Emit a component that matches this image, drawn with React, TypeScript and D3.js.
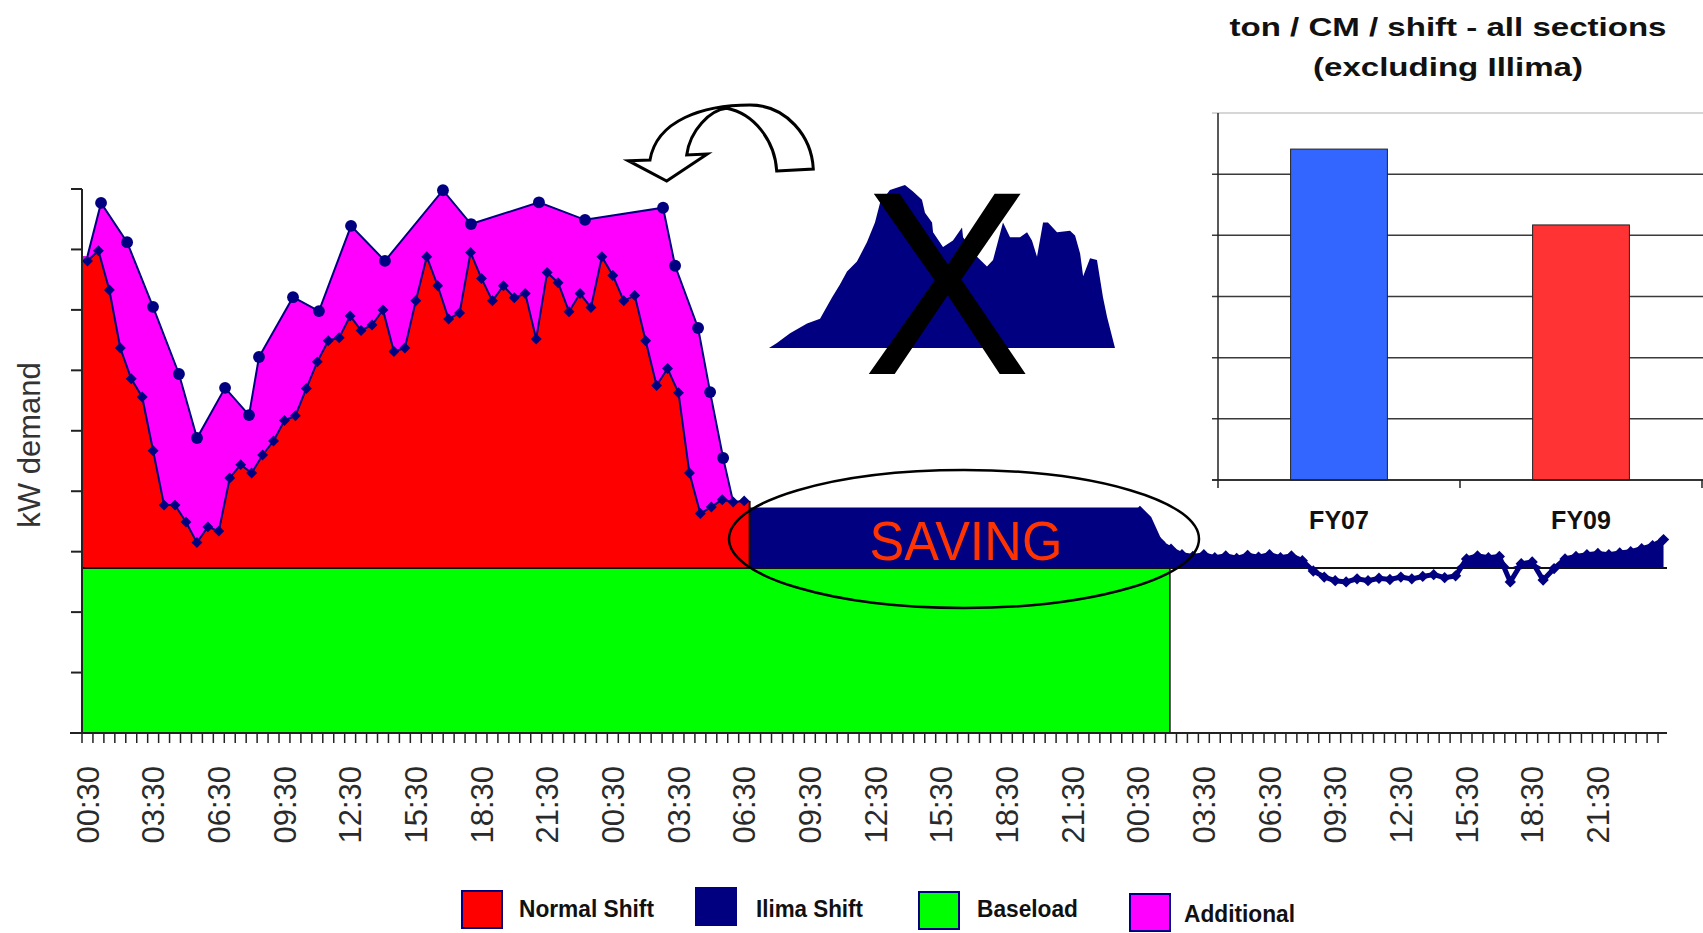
import React from "react";
import * as d3 from "d3";

const W = 1703;
const H = 933;
const FONT = "'Liberation Sans', Arial, sans-serif";
const NAVY = "#000080";

// ---------- main chart data ----------
const tickLabels = [
  "00:30", "03:30", "06:30", "09:30", "12:30", "15:30", "18:30", "21:30",
  "00:30", "03:30", "06:30", "09:30", "12:30", "15:30", "18:30", "21:30",
  "00:30", "03:30", "06:30", "09:30", "12:30", "15:30", "18:30", "21:30",
];
const categoryCount = 145; // half-hour slots
const labelEvery = 6;
const yTicks = [0, 1, 2, 3, 4, 5, 6, 7, 8, 9];

const baseload = 2.73;
const baseloadEnd = 98.9; // category position where baseload fill stops

// Normal shift demand level (slots 0..60)
const normalShift = [
  7.81, 7.98, 7.33, 6.37, 5.86, 5.56, 4.67, 3.77, 3.77, 3.49,
  3.15, 3.41, 3.34, 4.22, 4.44, 4.30, 4.60, 4.83, 5.17, 5.25,
  5.70, 6.14, 6.49, 6.54, 6.90, 6.66, 6.75, 7.00, 6.31, 6.37,
  7.15, 7.88, 7.40, 6.85, 6.95, 7.95, 7.52, 7.15, 7.40, 7.20,
  7.27, 6.52, 7.62, 7.45, 6.97, 7.27, 7.04, 7.88, 7.57, 7.15,
  7.24, 6.49, 5.75, 6.03, 5.63, 4.30, 3.63, 3.74, 3.86, 3.82, 3.84,
];

// Additional demand: [slot position, level]
const additionalPos = [
  0, 1.24, 3.62, 5.99, 8.36, 10.01, 12.57, 14.76, 15.67, 18.78, 21.15,
  24.08, 27.18, 32.48, 35.04, 41.25, 45.46, 52.59, 53.69, 55.79, 56.89, 58.08, 59,
];
const additionalVal = [
  7.89, 8.77, 8.12, 7.05, 5.94, 4.88, 5.71, 5.26, 6.22, 7.21, 6.98,
  8.39, 7.81, 8.98, 8.42, 8.78, 8.49, 8.69, 7.73, 6.70, 5.64, 4.55, 3.82,
];

// Ilima shift block
const ilimaLevel = 3.73;
const ilimaStart = 61;
const ilimaEnd = 96;

// Demand after Ilima stopped (slots 97..144)
const afterStart = 97;
const afterValues = [
  3.55, 3.15, 3.04, 2.95, 2.92, 2.95, 2.90, 2.93, 2.89, 2.94,
  2.91, 2.95, 2.90, 2.93, 2.85, 2.68, 2.58, 2.52, 2.50, 2.55,
  2.52, 2.56, 2.54, 2.58, 2.55, 2.59, 2.62, 2.57, 2.60, 2.88,
  2.93, 2.90, 2.92, 2.50, 2.80, 2.83, 2.53, 2.72, 2.88, 2.92,
  2.95, 2.97, 2.95, 2.98, 3.00, 3.05, 3.10, 3.20,
];

// ---------- mini Ilima profile (crossed out) ----------
const miniHours = [
  0, 0.55, 1.46, 2.64, 3.54, 4.37, 4.92, 5.41, 6.1, 6.8, 7.35, 7.7, 8.39, 9.43,
  9.99, 10.61, 10.82, 11.31, 11.38, 12.07, 12.76, 13.39, 13.46, 14.43, 15.12,
  15.54, 16.23, 16.72, 17.41, 17.9, 18.24, 18.59, 19.01, 19.35, 19.98, 20.88,
  21.23, 21.58, 21.79, 22.27, 22.75, 23.17, 23.45, 24,
];
const miniValues = [
  0, 3, 9, 15, 18, 31, 39, 47, 53, 65, 77, 89, 97, 100,
  96, 91, 83, 77, 71, 62, 66, 74, 68, 56, 50,
  54, 77, 68, 68, 71, 66, 56, 77, 77, 71, 72,
  69, 58, 44, 55, 54, 31, 19, 0,
];

// ---------- inset bar chart ----------
const barCats = ["FY07", "FY09"];
const barValues = [5.41, 4.17];
const barColors = ["#3366ff", "#ff3333"];
const barGrid = [0, 1, 2, 3, 4, 5, 6];

// ---------- legend ----------
const legendItems = [
  { name: "Normal Shift", color: "#ff0000" },
  { name: "Ilima Shift", color: NAVY },
  { name: "Baseload", color: "#00ff00" },
  { name: "Additional", color: "#ff00ff" },
];

export default function App() {
  const x = d3.scaleLinear().domain([-0.5, categoryCount - 0.5]).range([82, 1669]);
  const y = d3.scaleLinear().domain([0, 9]).range([733, 189]);
  const yBase = y(baseload);

  const area = d3
    .area<[number, number]>()
    .x((d) => x(d[0]))
    .y0(yBase)
    .y1((d) => y(d[1]));
  const line = d3
    .line<[number, number]>()
    .x((d) => x(d[0]))
    .y((d) => y(d[1]));

  const redPts: [number, number][] = normalShift.map((v, i) => [i, v]);
  const redArea: [number, number][] = [
    [-0.5, normalShift[0]],
    ...redPts,
    [normalShift.length - 0.5, normalShift[normalShift.length - 1]],
  ];
  const addPts: [number, number][] = additionalPos.map((p, i) => [p, additionalVal[i]]);
  const addArea: [number, number][] = [[-0.5, additionalVal[0]], ...addPts];

  const afterPts: [number, number][] = afterValues.map((v, k) => [afterStart + k, v]);
  const ilimaArea: [number, number][] = [
    [ilimaStart - 0.5, ilimaLevel],
    [ilimaEnd, ilimaLevel],
    ...afterPts.map((p) => [p[0], Math.max(p[1], baseload)] as [number, number]),
  ];
  const afterLine: [number, number][] = [[ilimaEnd, ilimaLevel], ...afterPts];

  const diamond = d3.symbol().type(d3.symbolSquare).size(60)() as string;
  const smallDiamond = d3.symbol().type(d3.symbolSquare).size(64)() as string;
  const circle = d3.symbol().type(d3.symbolCircle).size(110)() as string;

  // mini chart
  const xm = d3.scaleLinear().domain([0, 24]).range([769, 1115]);
  const ym = d3.scaleLinear().domain([0, 100]).range([348, 185]);
  const miniArea = d3
    .area<number>()
    .x((_, i) => xm(miniHours[i]))
    .y0(ym(0))
    .y1((d) => ym(d));

  // inset
  const xb = d3.scaleBand<string>().domain(barCats).range([1218, 1702]).padding(0);
  const yb = d3.scaleLinear().domain([0, 6]).range([480, 113]);
  const bw = xb.bandwidth() * 0.4;

  const ticksX = d3.range(0, categoryCount + 1).map((k) => x(k - 0.5)).filter((v) => v <= 1666);

  return (
    <svg
      width={W}
      height={H}
      style={{ position: "absolute", left: 0, top: 0, background: "#fff", display: "block" }}
      fontFamily={FONT}
    >
      <rect x={0} y={0} width={W} height={H} fill="#fff" />

      {/* ===== main stacked chart ===== */}
      <rect
        x={x(-0.5)}
        y={yBase}
        width={x(baseloadEnd) - x(-0.5)}
        height={y(0) - yBase}
        fill="#00ff00"
        stroke="#111"
        strokeWidth={1.5}
      />
      <path d={area(addArea) as string} fill="#ff00ff" />
      <path d={area(redArea) as string} fill="#ff0000" />
      <path d={area(ilimaArea) as string} fill={NAVY} />
      <line
        x1={x(normalShift.length - 0.5)}
        x2={x(normalShift.length - 0.5)}
        y1={y(normalShift[normalShift.length - 1])}
        y2={yBase}
        stroke="#111"
        strokeWidth={2}
      />
      <line x1={x(-0.5)} x2={1667} y1={yBase} y2={yBase} stroke="#111" strokeWidth={2} />

      <path d={line(addPts) as string} fill="none" stroke={NAVY} strokeWidth={2} />
      <path d={line(redPts) as string} fill="none" stroke={NAVY} strokeWidth={2} />
      <path d={line(afterLine) as string} fill="none" stroke={NAVY} strokeWidth={5} />

      {redPts.map((p, i) => (
        <path key={"r" + i} d={diamond} fill={NAVY} transform={`translate(${x(p[0])},${y(p[1])}) rotate(45)`} />
      ))}
      {addPts.slice(1, -1).map((p, i) => (
        <path key={"a" + i} d={circle} fill={NAVY} transform={`translate(${x(p[0])},${y(p[1])})`} />
      ))}
      {afterPts.slice(1).map((p, i) => (
        <path
          key={"t" + i}
          d={smallDiamond}
          fill={NAVY}
          transform={`translate(${x(p[0])},${y(p[1])}) rotate(45)`}
        />
      ))}

      {/* axes */}
      <line x1={82} x2={82} y1={y(9)} y2={y(0)} stroke="#222" strokeWidth={2} />
      {yTicks.map((t) => (
        <line key={"yt" + t} x1={71} x2={82} y1={y(t)} y2={y(t)} stroke="#222" strokeWidth={2} />
      ))}
      <line x1={70} x2={1667} y1={y(0)} y2={y(0)} stroke="#222" strokeWidth={2} />
      {ticksX.map((tx, i) => (
        <line key={"xt" + i} x1={tx} x2={tx} y1={y(0)} y2={y(0) + 10} stroke="#222" strokeWidth={1.5} />
      ))}
      {tickLabels.map((lab, k) => (
        <text
          key={"xl" + k}
          transform={`translate(${x(k * labelEvery)},766) rotate(-90)`}
          textAnchor="end"
          dy="0.36em"
          fontSize={31}
          fill="#2a2a2a"
        >
          {lab}
        </text>
      ))}
      <text transform="translate(29,445) rotate(-90)" textAnchor="middle" dy="0.36em" fontSize={31} fill="#333">
        kW demand
      </text>

      {/* saving annotation */}
      <text x={966} y={560} textAnchor="middle" fontSize={55} fill="#ff3300" textLength={193} lengthAdjust="spacingAndGlyphs">
        SAVING
      </text>
      <ellipse cx={964} cy={539} rx={235} ry={69} fill="none" stroke="#000" strokeWidth={2.5} />

      {/* ===== crossed-out mini profile ===== */}
      <path d={miniArea(miniValues) as string} fill={NAVY} />
      <text transform="translate(947,374) scale(0.96,1)" textAnchor="middle" fontSize={262} fill="#000">
        X
      </text>

      {/* curved arrow */}
      <path
        d="M776.7,171 L813.3,169 C811.7,136.7 786.7,105 750,105 C703.3,105 656.7,120 650,160 L628.3,160.7 L666.7,181 L707.3,154 L686.7,155 C690,130 710,110 726.7,108.3 C753.3,113.3 775,140 776.7,171 Z"
        fill="#fff"
        stroke="#000"
        strokeWidth={3}
        strokeLinejoin="miter"
      />

      {/* ===== inset bar chart ===== */}
      <text x={1448} y={36} textAnchor="middle" fontSize={26} fontWeight="bold" fill="#111" textLength={437} lengthAdjust="spacingAndGlyphs">
        ton / CM / shift - all sections
      </text>
      <text x={1448} y={76} textAnchor="middle" fontSize={26} fontWeight="bold" fill="#111" textLength={270} lengthAdjust="spacingAndGlyphs">
        (excluding Illima)
      </text>
      {barGrid.map((g) => (
        <line
          key={"g" + g}
          x1={1212}
          x2={1703}
          y1={yb(g)}
          y2={yb(g)}
          stroke={g === 6 ? "#c8c8c8" : "#3a3a3a"}
          strokeWidth={1.5}
        />
      ))}
      <line x1={1218} x2={1218} y1={yb(6)} y2={yb(0) + 8} stroke="#222" strokeWidth={1.5} />
      {barCats.map((c) => (
        <line
          key={"bt" + c}
          x1={(xb(c) as number) + xb.bandwidth()}
          x2={(xb(c) as number) + xb.bandwidth()}
          y1={yb(0)}
          y2={yb(0) + 8}
          stroke="#222"
          strokeWidth={1.5}
        />
      ))}
      {barCats.map((c, i) => (
        <rect
          key={"b" + c}
          x={(xb(c) as number) + (xb.bandwidth() - bw) / 2}
          y={yb(barValues[i])}
          width={bw}
          height={yb(0) - yb(barValues[i])}
          fill={barColors[i]}
          stroke="#222"
          strokeWidth={1}
        />
      ))}
      <line x1={1212} x2={1703} y1={yb(0)} y2={yb(0)} stroke="#222" strokeWidth={1.5} />
      {barCats.map((c) => (
        <text
          key={"bl" + c}
          x={(xb(c) as number) + xb.bandwidth() / 2}
          y={529}
          textAnchor="middle"
          fontSize={25}
          fontWeight="bold"
          fill="#111"
        >
          {c}
        </text>
      ))}

      {/* ===== legend ===== */}
      {legendItems.map((it, i) => {
        const boxes = [
          [462, 891],
          [696, 888],
          [919, 892],
          [1130, 894],
        ];
        const texts = [
          [519, 917, 135],
          [756, 917, 107],
          [977, 917, 101],
          [1184, 922, 111],
        ];
        const [bx, by] = boxes[i];
        const [tx, ty, tl] = texts[i];
        return (
          <g key={"lg" + i}>
            <rect x={bx} y={by} width={40} height={37} fill={it.color} stroke={NAVY} strokeWidth={2} />
            <text
              x={tx}
              y={ty}
              fontSize={23}
              fontWeight="bold"
              fill="#111"
              fontFamily="'Liberation Sans Narrow', 'Liberation Sans', Arial, sans-serif"
              textLength={tl}
              lengthAdjust="spacingAndGlyphs"
            >
              {it.name}
            </text>
          </g>
        );
      })}
    </svg>
  );
}
